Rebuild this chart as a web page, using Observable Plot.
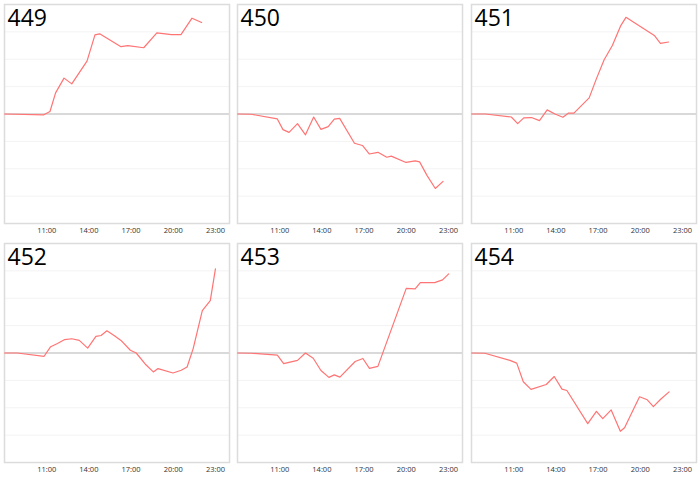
<!DOCTYPE html>
<html>
<head>
<meta charset="utf-8">
<script src="https://cdn.jsdelivr.net/npm/d3@7"></script>
<script src="https://cdn.jsdelivr.net/npm/@observablehq/plot@0.6"></script>
<style>
  html, body { margin: 0; padding: 0; background: #fff; }
  #grid { position: relative; width: 700px; height: 479px; }
  #grid > div { position: absolute; }
  svg { display: block; }
</style>
</head>
<body>
<div id="grid"></div>
<script>
// Panel names
const panelNames = ["449", "450", "451", "452", "453", "454"];

// X axis tick labels
const tickLabels = ["11:00", "14:00", "17:00", "20:00", "23:00"];

// Series 449
const times449 = ["8:00","10:48","11:14","11:38","12:14","12:47","13:52","14:26","14:46","16:17","16:46","17:54","18:50","19:52","20:33","21:20","22:01"];
const values449 = [0,-0.03,0.09,0.77,1.31,1.10,1.93,2.89,2.93,2.46,2.50,2.42,2.96,2.90,2.90,3.50,3.34];

// Series 450
const times450 = ["8:00","8:59","10:50","11:14","11:40","12:16","12:50","13:25","13:56","14:27","14:53","15:16","16:19","16:53","17:22","17:59","18:37","18:56","19:59","20:38","20:57","21:29","22:04","22:37"];
const values450 = [0,-0.01,-0.18,-0.57,-0.67,-0.35,-0.76,-0.11,-0.56,-0.46,-0.19,-0.16,-1.07,-1.15,-1.46,-1.40,-1.58,-1.54,-1.77,-1.71,-1.75,-2.25,-2.72,-2.46];

// Series 451
const times451 = ["8:00","8:59","10:50","11:17","11:43","12:16","12:50","13:23","13:56","14:30","14:53","15:17","16:22","16:54","17:26","18:01","18:37","18:59","21:00","21:26","22:01"];
const values451 = [0,0,-0.11,-0.35,-0.14,-0.13,-0.24,0.15,0,-0.12,0.03,0.03,0.59,1.31,1.98,2.50,3.23,3.53,2.87,2.58,2.63];

// Series 452
const times452 = ["8:00","8:54","10:49","11:17","11:46","12:17","12:47","13:19","13:55","14:30","14:52","15:17","15:49","16:17","16:57","17:22","18:00","18:35","18:55","19:59","20:34","20:59","21:25","22:04","22:38","23:00"];
const values452 = [0,0,-0.12,0.23,0.35,0.49,0.52,0.46,0.18,0.61,0.64,0.81,0.63,0.46,0.10,0,-0.40,-0.69,-0.57,-0.73,-0.63,-0.51,0.16,1.55,1.91,3.07];

// Series 453
const times453 = ["8:00","8:59","10:50","11:17","12:16","12:50","13:23","13:56","14:30","14:53","15:17","16:22","16:55","17:23","17:59","20:00","20:38","21:00","22:01","22:35","23:01"];
const values453 = [0,-0.01,-0.08,-0.39,-0.27,0,-0.19,-0.64,-0.89,-0.80,-0.88,-0.31,-0.20,-0.56,-0.49,2.36,2.34,2.57,2.57,2.67,2.89];

// Series 454
const times454 = ["8:00","8:57","10:44","11:13","11:41","12:14","13:19","13:53","14:26","14:47","16:16","16:53","17:20","17:56","18:35","18:53","19:57","20:30","20:56","21:27","22:03"];
const values454 = [0,-0.01,-0.27,-0.37,-1.05,-1.33,-1.15,-0.86,-1.32,-1.37,-2.58,-2.13,-2.40,-2.08,-2.86,-2.73,-1.60,-1.71,-1.96,-1.69,-1.42];

const gridValues = [-3, -2, -1, 1, 2, 3];

const series = [
  [times449, values449],
  [times450, values450],
  [times451, values451],
  [times452, values452],
  [times453, values453],
  [times454, values454]
];

const toHours = s => { const [h, m] = s.split(":").map(Number); return h + m / 60; };
const tickValues = tickLabels.map(toHours);

const W = 233, H = 239;
const positions = [[0,0],[233,0],[467,0],[0,239],[233,239],[467,239]];

const grid = document.getElementById("grid");
series.forEach(([times, vals], i) => {
  const data = times.map((t, j) => ({x: toHours(t), y: vals[j]}));
  const chart = Plot.plot({
    width: W,
    height: H,
    marginLeft: 4,
    marginRight: 4,
    marginTop: 4,
    marginBottom: 16,
    style: {fontFamily: "'Open Sans', 'Noto Sans', sans-serif", background: "#fff", overflow: "visible"},
    x: {domain: [8, 24], ticks: tickValues, tickFormat: (d, k) => tickLabels[k], tickSize: 0, tickPadding: 4, label: null},
    y: {domain: [-4, 4], axis: null},
    marks: [
      Plot.ruleY(gridValues, {stroke: "#f3f3f3", strokeWidth: 1}),
      Plot.ruleY([0], {stroke: "#cccccc", strokeWidth: 1.5}),
      Plot.frame({stroke: "#dcdcdc", strokeWidth: 1.5}),
      Plot.line(data, {x: "x", y: "y", stroke: "#ff7474", strokeWidth: 1.2}),
      Plot.text([panelNames[i]], {frameAnchor: "top-left", dx: 3, dy: 5, fontSize: 23, fill: "#000", lineAnchor: "top"})
    ]
  });
  chart.querySelectorAll("g[aria-label='x-axis tick label'] text, g[aria-label='x-axis tick label']").forEach(el => {
    el.setAttribute("font-size", "7.5");
    el.setAttribute("fill", "#333");
  });
  const wrap = document.createElement("div");
  wrap.style.left = positions[i][0] + "px";
  wrap.style.top = positions[i][1] + "px";
  wrap.appendChild(chart);
  grid.appendChild(wrap);
});
</script>
</body>
</html>
